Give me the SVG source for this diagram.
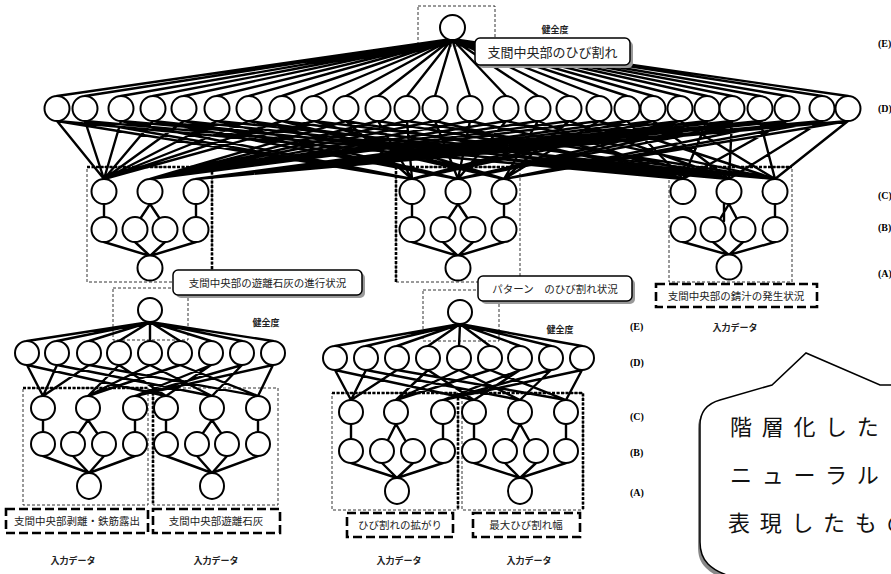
<svg xmlns="http://www.w3.org/2000/svg" width="891" height="574" viewBox="0 0 891 574">
<style>
.n circle,.n ellipse{fill:#fff;stroke:#000;stroke-width:2}
.e{fill:none;stroke:#000;stroke-width:2.4;stroke-linecap:round}
.thin{fill:none;stroke:#000;stroke-width:0.8;stroke-dasharray:3 2}
.thick{fill:none;stroke:#000;stroke-width:2.6;stroke-dasharray:3 1.5}
.tb{fill:none;stroke:#000;stroke-width:2.6;stroke-dasharray:9 4}
.lb{fill:#fff;stroke:#000;stroke-width:1.5}
.sh{fill:#999}
.t{font-family:"Noto Sans CJK JP",sans-serif;font-size:10.5px;fill:#222;text-anchor:middle}
.h{font-family:"Noto Sans CJK JP",sans-serif;font-size:9px;font-weight:bold;fill:#222;text-anchor:middle}
.lv{font-family:"Liberation Serif",serif;font-size:10px;font-weight:bold;fill:#000}
.c{font-family:"Noto Sans CJK JP",sans-serif;font-size:22px;letter-spacing:9.7px;fill:#111}
</style>
<rect width="891" height="574" fill="#fff"/>

<!-- dashed frames -->
<g id="frames">
<rect class="thin" x="418" y="6" width="77" height="40"/>
<rect class="thin" x="87" y="167" width="125" height="115"/>
<path class="thick" d="M87 167H212M212 167V272"/>
<rect class="thin" x="396" y="167" width="124" height="115"/>
<path class="thick" d="M396 282V167H520"/>
<rect class="thin" x="669" y="167" width="123" height="115"/>
<path class="thick" d="M669 167H792"/>
<rect class="thin" x="113" y="288" width="75" height="52"/>
<rect class="thin" x="423" y="290" width="76" height="51"/>
<rect class="thin" x="23" y="388" width="125" height="117"/>
<path class="thick" d="M23 388H148"/>
<rect class="thin" x="153" y="388" width="125" height="117"/>
<path class="thick" d="M153 388V505"/>
<rect class="thin" x="332" y="393" width="126" height="117"/>
<path class="thick" d="M332 393H458V510"/>
<rect class="thin" x="462" y="393" width="121" height="117"/>
<path class="thick" d="M462 393H583V510"/>
</g>

<g id="connectors">
<path class="e" d="M452 39L57 96M452 39L85 96M452 39L121 96M452 39L153 96M452 39L184 96M452 39L217 96M452 39L249 96M452 39L282 96M452 39L314 96M452 39L346 96M452 39L378 96M452 39L407 96M452 39L435 96M452 39L470 96M452 39L506 96M452 39L538 96M452 39L569 96M452 39L599 96M452 39L627 96M452 39L653 96M452 39L680 96M452 39L707 96M452 39L732 96M452 39L760 96M452 39L787 96M452 39L822 96M452 39L848 96"/>
<path class="e" d="M57 121L104 179M57 121L412 179M57 121L683 179M85 121L104 179M85 121L412 179M85 121L729 179M121 121L104 179M121 121L412 179M121 121L775 179M153 121L104 179M153 121L458 179M153 121L683 179M184 121L104 179M184 121L458 179M184 121L729 179M217 121L104 179M217 121L458 179M217 121L775 179M249 121L104 179M249 121L504 179M249 121L683 179M282 121L104 179M282 121L504 179M282 121L729 179M314 121L104 179M314 121L504 179M314 121L775 179"/>
<path class="e" d="M346 121L150 179M346 121L412 179M346 121L683 179M378 121L150 179M378 121L412 179M378 121L729 179M407 121L150 179M407 121L412 179M407 121L775 179M435 121L150 179M435 121L458 179M435 121L683 179M470 121L150 179M470 121L458 179M470 121L729 179M506 121L150 179M506 121L458 179M506 121L775 179M538 121L150 179M538 121L504 179M538 121L683 179M569 121L150 179M569 121L504 179M569 121L729 179M599 121L150 179M599 121L504 179M599 121L775 179"/>
<path class="e" d="M627 121L196 179M627 121L412 179M627 121L683 179M653 121L196 179M653 121L412 179M653 121L729 179M680 121L196 179M680 121L412 179M680 121L775 179M707 121L196 179M707 121L458 179M707 121L683 179M732 121L196 179M732 121L458 179M732 121L729 179M760 121L196 179M760 121L458 179M760 121L775 179M787 121L196 179M787 121L504 179M787 121L683 179M822 121L196 179M822 121L504 179M822 121L729 179M848 121L196 179M848 121L504 179M848 121L775 179"/>
<path class="e" d="M104 204L104 217M150 204L140 219M150 204L160 219M196 204L196 217M104 242L150 256M135 242L150 256M165 242L150 256M196 242L150 256"/>
<path class="e" d="M412 204L412 217M458 204L448 219M458 204L468 219M504 204L504 217M412 242L458 256M443 242L458 256M473 242L458 256M504 242L458 256"/>
<path class="e" d="M724 204L724 221M729 204L720 219M729 204L737 219M775 204L775 217M683 242L729 255M713 242L729 255M743 242L729 255M775 242L729 255"/>
<path class="e" d="M150 322L27 341M150 322L57 341M150 322L89 341M150 322L119 341M150 322L150 341M150 322L180 341M150 322L211 341M150 322L242 341M150 322L273 341"/>
<path class="e" d="M27 365L43 396M27 365L166 396M57 365L43 396M57 365L212 396M89 365L43 396M89 365L258 396M119 365L88 396M119 365L166 396M150 365L88 396M150 365L212 396M180 365L88 396M180 365L258 396M211 365L135 396M211 365L166 396M242 365L135 396M242 365L212 396M273 365L135 396M273 365L258 396"/>
<path class="e" d="M43 420L43 432M88 420L79 433M88 420L97 433M135 420L135 432M166 420L166 432M212 420L203 433M212 420L221 433M258 420L258 432M43 456L89 473M73 456L89 473M104 456L89 473M135 456L89 473M166 456L212 473M197 456L212 473M227 456L212 473M258 456L212 473"/>
<path class="e" d="M460 324L335 346M460 324L366 346M460 324L397 346M460 324L428 346M460 324L459 346M460 324L490 346M460 324L520 346M460 324L551 346M460 324L582 346"/>
<path class="e" d="M335 370L351 400M335 370L474 400M366 370L351 400M366 370L520 400M397 370L351 400M397 370L566 400M428 370L396 400M428 370L474 400M459 370L396 400M459 370L520 400M490 370L396 400M490 370L566 400M520 370L443 400M520 370L474 400M551 370L443 400M551 370L520 400M582 370L443 400M582 370L566 400"/>
<path class="e" d="M351 424L351 439M396 424L388 440M396 424L405 440M443 424L443 439M474 424L474 439M520 424L512 440M520 424L529 440M566 424L566 439M351 463L397 478M382 463L397 478M413 463L397 478M443 463L397 478M474 463L520 478M505 463L520 478M536 463L520 478M566 463L520 478"/>
</g>

<g class="n">
<g id="top-E"><circle cx="452.5" cy="27.5" r="12.5"/></g>
<g id="top-D1"><circle cx="57" cy="108.5" r="12.5"/></g>
<g id="top-D2"><circle cx="85" cy="108.5" r="12.5"/></g>
<g id="top-D3"><circle cx="121" cy="108.5" r="12.5"/></g>
<g id="top-D4"><circle cx="153" cy="108.5" r="12.5"/></g>
<g id="top-D5"><circle cx="184" cy="108.5" r="12.5"/></g>
<g id="top-D6"><circle cx="217" cy="108.5" r="12.5"/></g>
<g id="top-D7"><circle cx="249" cy="108.5" r="12.5"/></g>
<g id="top-D8"><circle cx="282" cy="108.5" r="12.5"/></g>
<g id="top-D9"><circle cx="314" cy="108.5" r="12.5"/></g>
<g id="top-D10"><circle cx="346" cy="108.5" r="12.5"/></g>
<g id="top-D11"><circle cx="378" cy="108.5" r="12.5"/></g>
<g id="top-D12"><circle cx="407" cy="108.5" r="12.5"/></g>
<g id="top-D13"><circle cx="435" cy="108.5" r="12.5"/></g>
<g id="top-D14"><circle cx="470" cy="108.5" r="12.5"/></g>
<g id="top-D15"><circle cx="506" cy="108.5" r="12.5"/></g>
<g id="top-D16"><circle cx="538" cy="108.5" r="12.5"/></g>
<g id="top-D17"><circle cx="569" cy="108.5" r="12.5"/></g>
<g id="top-D18"><circle cx="599" cy="108.5" r="12.5"/></g>
<g id="top-D19"><circle cx="627" cy="108.5" r="12.5"/></g>
<g id="top-D20"><circle cx="653" cy="108.5" r="12.5"/></g>
<g id="top-D21"><circle cx="680" cy="108.5" r="12.5"/></g>
<g id="top-D22"><circle cx="707" cy="108.5" r="12.5"/></g>
<g id="top-D23"><circle cx="732" cy="108.5" r="12.5"/></g>
<g id="top-D24"><circle cx="760" cy="108.5" r="12.5"/></g>
<g id="top-D25"><circle cx="787" cy="108.5" r="12.5"/></g>
<g id="top-D26"><circle cx="822" cy="108.5" r="12.5"/></g>
<g id="top-D27"><circle cx="848" cy="108.5" r="12.5"/></g>
<g id="L-C1"><circle cx="104" cy="191.5" r="12.5"/></g>
<g id="L-C2"><circle cx="150" cy="191.5" r="12.5"/></g>
<g id="L-C3"><circle cx="196" cy="191.5" r="12.5"/></g>
<g id="L-B1"><circle cx="104" cy="229.5" r="12.5"/></g>
<g id="L-B2"><circle cx="135" cy="229.5" r="12.5"/></g>
<g id="L-B3"><circle cx="165" cy="229.5" r="12.5"/></g>
<g id="L-B4"><circle cx="196" cy="229.5" r="12.5"/></g>
<g id="L-A"><circle cx="150" cy="268" r="12.5"/></g>
<g id="M-C1"><circle cx="412" cy="191.5" r="12.5"/></g>
<g id="M-C2"><circle cx="458" cy="191.5" r="12.5"/></g>
<g id="M-C3"><circle cx="504" cy="191.5" r="12.5"/></g>
<g id="M-B1"><circle cx="412" cy="229.5" r="12.5"/></g>
<g id="M-B2"><circle cx="443" cy="229.5" r="12.5"/></g>
<g id="M-B3"><circle cx="473" cy="229.5" r="12.5"/></g>
<g id="M-B4"><circle cx="504" cy="229.5" r="12.5"/></g>
<g id="M-A"><circle cx="458" cy="268" r="12.5"/></g>
<g id="R-C1"><circle cx="683" cy="191.5" r="12.5"/></g>
<g id="R-C2"><circle cx="729" cy="191.5" r="12.5"/></g>
<g id="R-C3"><circle cx="775" cy="191.5" r="12.5"/></g>
<g id="R-B1"><circle cx="683" cy="229.5" r="12.5"/></g>
<g id="R-B2"><circle cx="713" cy="229.5" r="12.5"/></g>
<g id="R-B3"><circle cx="743" cy="229.5" r="12.5"/></g>
<g id="R-B4"><circle cx="775" cy="229.5" r="12.5"/></g>
<g id="R-A"><circle cx="729" cy="267" r="12.5"/></g>

<g id="LL-E"><circle cx="150" cy="310" r="12"/></g>
<g id="LL-D1"><circle cx="27" cy="353" r="12"/></g>
<g id="LL-D2"><circle cx="57" cy="353" r="12"/></g>
<g id="LL-D3"><circle cx="89" cy="353" r="12"/></g>
<g id="LL-D4"><circle cx="119" cy="353" r="12"/></g>
<g id="LL-D5"><circle cx="150" cy="353" r="12"/></g>
<g id="LL-D6"><circle cx="180" cy="353" r="12"/></g>
<g id="LL-D7"><circle cx="211" cy="353" r="12"/></g>
<g id="LL-D8"><circle cx="242" cy="353" r="12"/></g>
<g id="LL-D9"><circle cx="273" cy="353" r="12"/></g>
<g id="LL-C1"><circle cx="43" cy="408" r="12"/></g>
<g id="LL-C2"><circle cx="88" cy="408" r="12"/></g>
<g id="LL-C3"><circle cx="135" cy="408" r="12"/></g>
<g id="LL-C4"><circle cx="166" cy="408" r="12"/></g>
<g id="LL-C5"><circle cx="212" cy="408" r="12"/></g>
<g id="LL-C6"><circle cx="258" cy="408" r="12"/></g>
<g id="LL-B1"><circle cx="43" cy="444" r="12"/></g>
<g id="LL-B2"><circle cx="73" cy="444" r="12"/></g>
<g id="LL-B3"><circle cx="104" cy="444" r="12"/></g>
<g id="LL-B4"><circle cx="135" cy="444" r="12"/></g>
<g id="LL-B5"><circle cx="166" cy="444" r="12"/></g>
<g id="LL-B6"><circle cx="197" cy="444" r="12"/></g>
<g id="LL-B7"><circle cx="227" cy="444" r="12"/></g>
<g id="LL-B8"><circle cx="258" cy="444" r="12"/></g>
<g id="LL-A1"><ellipse cx="89" cy="486" rx="12" ry="13"/></g>
<g id="LL-A2"><ellipse cx="212" cy="486" rx="12" ry="13"/></g>

<g id="LM-E"><circle cx="460" cy="312" r="12"/></g>
<g id="LM-D1"><circle cx="335" cy="358" r="12"/></g>
<g id="LM-D2"><circle cx="366" cy="358" r="12"/></g>
<g id="LM-D3"><circle cx="397" cy="358" r="12"/></g>
<g id="LM-D4"><circle cx="428" cy="358" r="12"/></g>
<g id="LM-D5"><circle cx="459" cy="358" r="12"/></g>
<g id="LM-D6"><circle cx="490" cy="358" r="12"/></g>
<g id="LM-D7"><circle cx="520" cy="358" r="12"/></g>
<g id="LM-D8"><circle cx="551" cy="358" r="12"/></g>
<g id="LM-D9"><circle cx="582" cy="358" r="12"/></g>
<g id="LM-C1"><circle cx="351" cy="412" r="12"/></g>
<g id="LM-C2"><circle cx="396" cy="412" r="12"/></g>
<g id="LM-C3"><circle cx="443" cy="412" r="12"/></g>
<g id="LM-C4"><circle cx="474" cy="412" r="12"/></g>
<g id="LM-C5"><circle cx="520" cy="412" r="12"/></g>
<g id="LM-C6"><circle cx="566" cy="412" r="12"/></g>
<g id="LM-B1"><circle cx="351" cy="451" r="12"/></g>
<g id="LM-B2"><circle cx="382" cy="451" r="12"/></g>
<g id="LM-B3"><circle cx="413" cy="451" r="12"/></g>
<g id="LM-B4"><circle cx="443" cy="451" r="12"/></g>
<g id="LM-B5"><circle cx="474" cy="451" r="12"/></g>
<g id="LM-B6"><circle cx="505" cy="451" r="12"/></g>
<g id="LM-B7"><circle cx="536" cy="451" r="12"/></g>
<g id="LM-B8"><circle cx="566" cy="451" r="12"/></g>
<g id="LM-A1"><ellipse cx="397" cy="491" rx="12" ry="13"/></g>
<g id="LM-A2"><ellipse cx="520" cy="491" rx="12" ry="13"/></g>
</g>

<!-- labels -->
<g id="label-top">
<rect class="sh" x="478" y="41" width="155" height="27" rx="5"/>
<rect class="lb" x="475" y="38" width="155" height="27" rx="5"/>
<text class="t" x="552.5" y="56.5" style="font-size:13px">支間中央部のひび割れ</text>
</g>
<g id="label-left">
<rect class="sh" x="176" y="273" width="189" height="25" rx="5"/>
<rect class="lb" x="173" y="270" width="189" height="25" rx="5"/>
<text class="t" x="267.5" y="286.5">支間中央部の遊離石灰の進行状況</text>
</g>
<g id="label-mid">
<rect class="sh" x="481" y="279" width="154" height="25" rx="5"/>
<rect class="lb" x="478" y="276" width="154" height="25" rx="5"/>
<text class="t" x="555" y="292.5">パターン　のひび割れ状況</text>
</g>
<g id="label-right">
<rect class="tb" x="656" y="284" width="161" height="23"/>
<text class="t" x="736" y="300">支間中央部の錆汁の発生状況</text>
</g>
<g id="in1">
<rect class="tb" x="6" y="509" width="142" height="24"/>
<text class="t" x="77" y="525">支間中央部剥離・鉄筋露出</text>
</g>
<g id="in2">
<rect class="tb" x="153" y="509" width="127" height="24"/>
<text class="t" x="216" y="525">支間中央部遊離石灰</text>
</g>
<g id="in3">
<rect class="tb" x="347" y="513" width="106" height="24"/>
<text class="t" x="400" y="529">ひび割れの拡がり</text>
</g>
<g id="in4">
<rect class="tb" x="473" y="513" width="107" height="24"/>
<text class="t" x="526" y="529">最大ひび割れ幅</text>
</g>

<g id="small-text">
<text class="h" x="555" y="33">健全度</text>
<text class="h" x="266" y="326">健全度</text>
<text class="h" x="560" y="333">健全度</text>
<text class="h" x="735" y="331">入力データ</text>
<text class="h" x="73" y="564">入力データ</text>
<text class="h" x="216" y="564">入力データ</text>
<text class="h" x="399" y="564">入力データ</text>
<text class="h" x="529" y="564">入力データ</text>
<text class="lv" x="878" y="47">(E)</text>
<text class="lv" x="878" y="112">(D)</text>
<text class="lv" x="878" y="199">(C)</text>
<text class="lv" x="878" y="231">(B)</text>
<text class="lv" x="878" y="277">(A)</text>
<text class="lv" x="630" y="330">(E)</text>
<text class="lv" x="630" y="366">(D)</text>
<text class="lv" x="630" y="420">(C)</text>
<text class="lv" x="630" y="456">(B)</text>
<text class="lv" x="630" y="496">(A)</text>
</g>

<g id="callout">
<path d="M742 580C728 576 716 572 708 564C702 558 700 552 700 542L700 425C700 412 706 404 720 400L772 385L806 353L880 385L900 385L900 580Z" fill="#888" transform="translate(-2 4)"/>
<path d="M742 580C728 576 716 572 708 564C702 558 700 552 700 542L700 425C700 412 706 404 720 400L772 385L806 353L880 385L900 385L900 580Z" fill="#fff" stroke="#000" stroke-width="1.5"/>
<text class="c" x="730" y="435">階層化した</text>
<text class="c" x="730" y="483">ニューラル</text>
<text class="c" x="728" y="531">表現したもの</text>
</g>
</svg>
